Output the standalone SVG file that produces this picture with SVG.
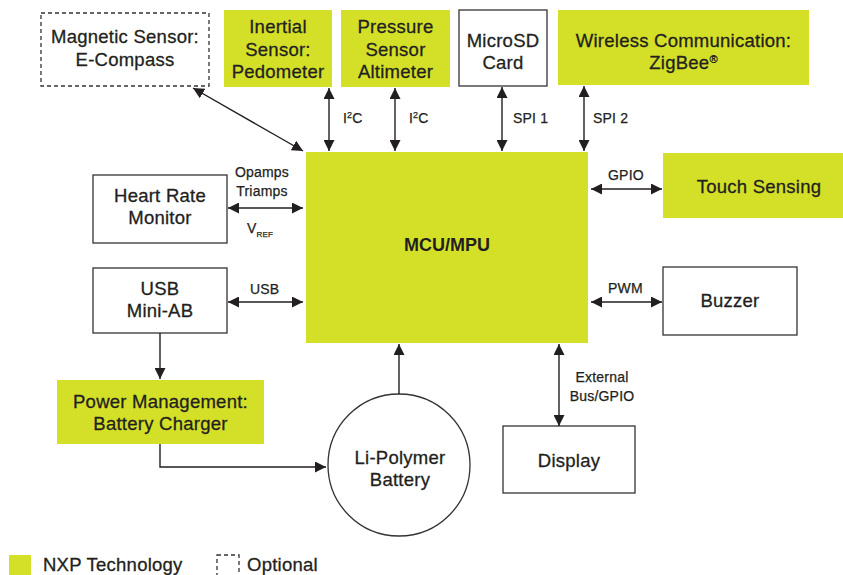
<svg xmlns="http://www.w3.org/2000/svg" width="843" height="575" viewBox="0 0 843 575">
<style>
.g{fill:#d4df27}
.b{fill:#fff;stroke:#333;stroke-width:1.3}
.d{fill:#fff;stroke:#333;stroke-width:1.3;stroke-dasharray:4 3}
.t{font-family:"Liberation Sans",Arial,sans-serif;font-size:18.5px;fill:#231f20;stroke:#231f20;stroke-width:0.3;text-anchor:middle;letter-spacing:0.25px}
.l{font-family:"Liberation Sans",Arial,sans-serif;font-size:18.5px;fill:#231f20;stroke:#231f20;stroke-width:0.3;text-anchor:start;letter-spacing:0.25px}
.s{font-family:"Liberation Sans",Arial,sans-serif;font-size:14px;fill:#231f20;stroke:#231f20;stroke-width:0.25;letter-spacing:0.2px}
.m{font-family:"Liberation Sans",Arial,sans-serif;font-size:18px;font-weight:bold;fill:#231f20;text-anchor:middle}
.c{fill:none;stroke:#231f20;stroke-width:1.4}
</style>
<defs>
<marker id="a" viewBox="0 0 10 10" refX="10" refY="5" markerWidth="11" markerHeight="11" markerUnits="userSpaceOnUse" orient="auto-start-reverse"><path d="M0,0 L10,5 L0,10 z" fill="#231f20"/></marker>
</defs>

<g id="magnetic"><rect class="d" x="41" y="13" width="168" height="73"/><text class="t" x="125" y="43">Magnetic Sensor:</text><text class="t" x="125" y="66">E-Compass</text></g>
<g id="inertial"><rect class="g" x="224" y="10" width="108" height="77"/><text class="t" x="278" y="33">Inertial</text><text class="t" x="278" y="56">Sensor:</text><text class="t" x="278" y="78">Pedometer</text></g>
<g id="pressure"><rect class="g" x="341" y="10" width="109" height="77"/><text class="t" x="395.5" y="33">Pressure</text><text class="t" x="395.5" y="56">Sensor</text><text class="t" x="395.5" y="78">Altimeter</text></g>
<g id="microsd"><rect class="b" x="459" y="10" width="88" height="76"/><text class="t" x="503" y="47">MicroSD</text><text class="t" x="503" y="69">Card</text></g>
<g id="wireless"><rect class="g" x="558" y="10" width="251" height="75"/><text class="t" x="683.5" y="47">Wireless Communication:</text><text class="t" x="683.5" y="69">ZigBee<tspan font-size="11" dy="-6">®</tspan></text></g>
<g id="mcu"><rect class="g" x="306" y="152" width="282" height="191"/><text class="m" x="447" y="251">MCU/MPU</text></g>
<g id="touch"><rect class="g" x="663" y="153" width="180" height="65"/><text class="t" x="759" y="193">Touch Sensing</text></g>
<g id="buzzer"><rect class="b" x="663" y="267" width="134" height="68"/><text class="t" x="730" y="307">Buzzer</text></g>
<g id="heart"><rect class="b" x="93" y="175" width="134" height="68"/><text class="t" x="160" y="202">Heart Rate</text><text class="t" x="160" y="224">Monitor</text></g>
<g id="usb"><rect class="b" x="93" y="268" width="134" height="65"/><text class="t" x="160" y="295">USB</text><text class="t" x="160" y="317">Mini-AB</text></g>
<g id="power"><rect class="g" x="57" y="380" width="207" height="64"/><text class="t" x="160.5" y="408">Power Management:</text><text class="t" x="160.5" y="430">Battery Charger</text></g>
<g id="battery"><circle fill="#fff" stroke="#333" stroke-width="1.3" cx="399" cy="465" r="71"/><text class="t" x="400" y="464">Li-Polymer</text><text class="t" x="400" y="486">Battery</text></g>
<g id="display"><rect class="b" x="503" y="426" width="132" height="67"/><text class="t" x="569" y="467">Display</text></g>

<g id="connectors">
<line class="c" x1="193" y1="88" x2="303" y2="151" marker-start="url(#a)" marker-end="url(#a)"/>
<line class="c" x1="329" y1="88" x2="329" y2="151" marker-start="url(#a)" marker-end="url(#a)"/>
<line class="c" x1="395" y1="88" x2="395" y2="151" stroke="#555" marker-start="url(#a)" marker-end="url(#a)"/>
<line class="c" x1="502" y1="87" x2="502" y2="151" marker-start="url(#a)" marker-end="url(#a)"/>
<line class="c" x1="584" y1="86" x2="584" y2="151" marker-start="url(#a)" marker-end="url(#a)"/>
<line class="c" x1="591" y1="189" x2="662" y2="189" marker-start="url(#a)" marker-end="url(#a)"/>
<line class="c" x1="591" y1="302" x2="662" y2="302" marker-start="url(#a)" marker-end="url(#a)"/>
<line class="c" x1="228" y1="208" x2="303" y2="208" marker-start="url(#a)" marker-end="url(#a)"/>
<line class="c" x1="228" y1="302" x2="303" y2="302" marker-start="url(#a)" marker-end="url(#a)"/>
<line class="c" x1="160" y1="333" x2="160" y2="379" marker-end="url(#a)"/>
<path class="c" d="M160,444 V467 H326" marker-end="url(#a)"/>
<line class="c" x1="399" y1="394" x2="399" y2="344" marker-end="url(#a)"/>
<line class="c" x1="559" y1="344" x2="559" y2="426" marker-start="url(#a)" marker-end="url(#a)"/>
<text class="s" x="343" y="123">I<tspan font-size="9" dy="-5">2</tspan><tspan dy="5">C</tspan></text>
<text class="s" x="409" y="123">I<tspan font-size="9" dy="-5">2</tspan><tspan dy="5">C</tspan></text>
<text class="s" x="513" y="123">SPI 1</text>
<text class="s" x="593" y="123">SPI 2</text>
<text class="s" x="608" y="180">GPIO</text>
<text class="s" x="608" y="293">PWM</text>
<text class="s" x="262" y="177" text-anchor="middle">Opamps</text>
<text class="s" x="262" y="196" text-anchor="middle">Triamps</text>
<text class="s" x="247" y="233">V<tspan font-size="8" dy="4">REF</tspan></text>
<text class="s" x="250" y="294">USB</text>
<text class="s" x="602" y="382" text-anchor="middle">External</text>
<text class="s" x="602" y="401" text-anchor="middle">Bus/GPIO</text>
</g>

<g id="legend">
<rect class="g" x="9" y="555" width="22" height="22"/>
<text class="l" x="43" y="571">NXP Technology</text>
<rect class="d" x="217" y="555" width="22" height="24"/>
<text class="l" x="247" y="571">Optional</text>
</g>
</svg>
